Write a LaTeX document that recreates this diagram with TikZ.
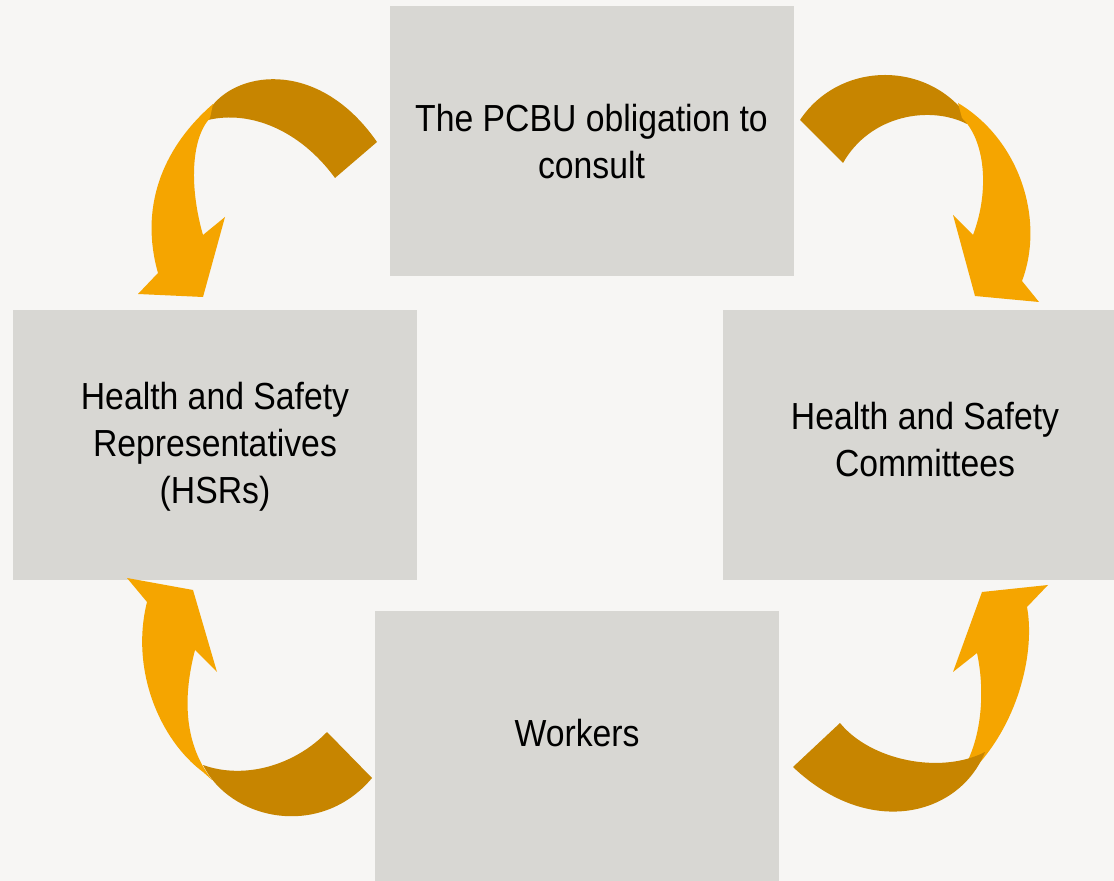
\documentclass[tikz,border=0pt]{standalone}
\usepackage{fontspec}
\setmainfont{Liberation Sans}
\usepackage{graphicx}

\definecolor{pagebg}{HTML}{F7F6F4}
\definecolor{panelgray}{HTML}{D8D7D3}
\definecolor{arrowdark}{HTML}{C78500}
\definecolor{arrowlight}{HTML}{F5A500}

% slightly condensed text, centred line by line; #1 puts the first
% baseline that far above the panel centre
\newcommand{\paneltext}[2]{\raisebox{#1}[0pt][0pt]{\scalebox{0.895}[1]{\begin{tabular}[t]{@{}c@{}}#2\end{tabular}}}}

\tikzset{
  panel/.style={fill=panelgray, draw=none, inner sep=0pt,
    minimum width=202pt, minimum height=135pt,
    font=\fontsize{18.85pt}{23.5pt}\selectfont, text=black},
  backband/.style={fill=arrowdark, draw=none},
  frontband/.style={fill=arrowlight, draw=none}
}

\begin{document}
\begin{tikzpicture}[x=0.5pt, y=-0.5pt]
  \useasboundingbox (0,0) rectangle (1114,881);
  \clip (0,0) rectangle (1114,881);
  \fill[pagebg] (0,0) rectangle (1114,881);

  % the four panels
  \node[panel] (pcbu)    at (591.5,141.5) {\paneltext{4.75pt}{The PCBU obligation to\\consult}};
  \node[panel] (hsr)     at (215,445)     {\paneltext{17.5pt}{Health and Safety\\Representatives\\(HSRs)}};
  \node[panel] (hsc)     at (925,445)     {\paneltext{7.5pt}{Health and Safety\\Committees}};
  \node[panel] (workers) at (577,746)     {\paneltext{-0.5pt}{Workers}};

  % top-left arrow: from the PCBU panel down to the HSRs
  \fill[backband] (212,106) .. controls (240,70) and (320,60) .. (377,142)
    -- (335,178) .. controls (300,130) and (250,110) .. (208,120) -- cycle;
  \fill[frontband] (213,104) .. controls (160,150) and (140,210) .. (158,273)
    -- (138,294) -- (203,297) -- (225,217) -- (203,235)
    .. controls (190,190) and (190,140) .. (210,118) -- cycle;

  % top-right arrow: from the PCBU panel down to the committees
  \fill[backband] (800,120) .. controls (840,60) and (930,60) .. (970,120)
    -- (967,124) .. controls (930,105) and (870,115) .. (843,163) -- cycle;
  \fill[frontband] (958,103) .. controls (1020,140) and (1045,220) .. (1022,281)
    -- (1039,302) -- (975,296) -- (953,215) -- (973,235)
    .. controls (990,190) and (985,140) .. (962,118) -- cycle;

  % bottom-left arrow: from the workers up to the HSRs
  \fill[frontband] (127,578) -- (193,590) -- (217,672) -- (195,650)
    .. controls (182,700) and (185,745) .. (212,780)
    -- (203,772) .. controls (160,740) and (130,670) .. (147,602) -- cycle;
  \fill[backband] (203,765) .. controls (230,820) and (320,840) .. (372,778)
    -- (327,732) .. controls (295,765) and (245,780) .. (203,765) -- cycle;

  % bottom-right arrow: from the workers up to the committees
  \fill[frontband] (1048,585) -- (982,592) -- (953,672) -- (977,653)
    .. controls (985,690) and (982,735) .. (965,766)
    -- (975,768) .. controls (1020,720) and (1035,650) .. (1027,607) -- cycle;
  \fill[backband] (793,767) -- (840,723) .. controls (870,760) and (940,775) .. (985,752)
    .. controls (960,815) and (870,840) .. (793,767) -- cycle;
\end{tikzpicture}
\end{document}
